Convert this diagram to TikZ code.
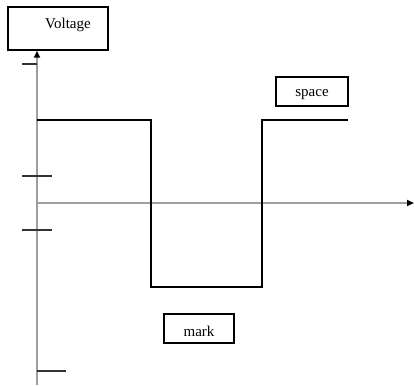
\documentclass[tikz,border=0pt]{standalone}
\usepackage{fontspec}
\setmainfont{Liberation Serif}
\usetikzlibrary{arrows.meta}
\tikzset{
  font={\fontsize{15pt}{17}\selectfont}}

\begin{document}
\begin{tikzpicture}[x=1pt,y=-1pt]
\tikzstyle{every node}+=[inner sep=0pt]
\tikzstyle{tag}=[draw=black, line width=1.5pt, fill=white]
\tikzstyle{axis}=[draw=black!38, line width=2pt]
\tikzstyle{tick}=[draw=black!80, line width=1.4pt]
\tikzstyle{wave}=[draw=black, line width=1.6pt]
\useasboundingbox (0,0) rectangle (414,385);
% labels
\node [tag, minimum width=100, minimum height=43,
  label={[xshift=10,yshift=4]center:Voltage}] (volt) at (58,28.5) {};
\node [tag, minimum width=72, minimum height=29] (space) at (312,91.5)
  {\raisebox{-3pt}[\height][\depth]{space}};
\node [tag, minimum width=70, minimum height=29] (mark) at (199,328.5)
  {\raisebox{-3pt}[\height][\depth]{mark}};
% axes
\coordinate (o) at (37,203);
\coordinate (bot) at (37,385);
\coordinate (xend) at (414,203);
\draw [axis] (bot) -- (o);
\draw [axis, -{Triangle[length=7pt,width=6pt,black]}] (o) -- (volt.south -| o);
\draw [axis, -{Triangle[length=7pt,width=6pt,black]}] (o) -- (xend);
% ticks
\draw [tick] (22,64) -- (37,64);
\draw [tick] (22,176) -- (52,176);
\draw [tick] (22,230) -- (52,230);
\draw [tick] (37,371) -- (66,371);
% the signal
\draw [wave] (37,120) -- (151,120) -- (151,287) -- (262,287)
  -- (262,120) -- (348,120);
\end{tikzpicture}
\end{document}
